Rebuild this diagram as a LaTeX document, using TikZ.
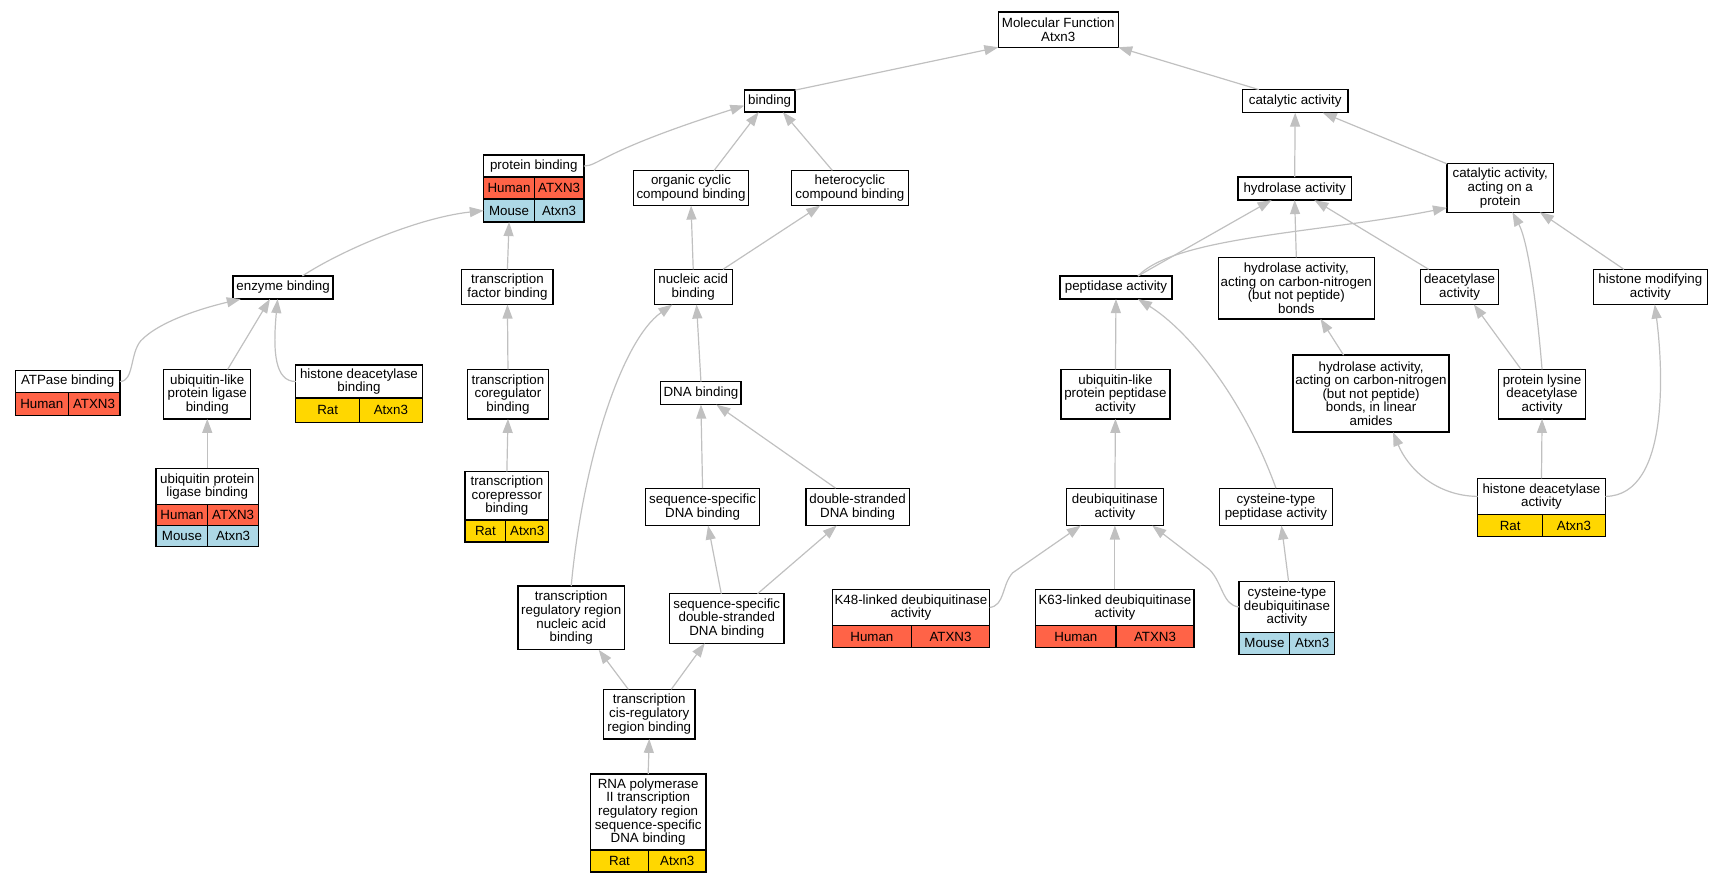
\documentclass[tikz,border=0pt]{standalone}
\usepackage{fontspec}
\setmainfont{Liberation Sans}
\usetikzlibrary{calc}
\usetikzlibrary{arrows.meta}

\definecolor{human}{HTML}{FF6347}
\definecolor{mouse}{HTML}{ADD8E6}
\definecolor{rat}{HTML}{FFD700}
\definecolor{edgegray}{HTML}{C0C0C0}

\begin{document}
\begin{tikzpicture}[x=0.8246pt,y=-0.8246pt,font=\fontsize{10}{10.2}\selectfont]
\tikzset{>={Triangle[length=10.5pt,width=7.5pt]}}
\tikzset{term/.style 2 args={draw,fill=white,line width=1pt,align=center,inner sep=0pt,outer sep=0pt,
    minimum width=#1*0.8246pt,minimum height=#2*0.8246pt}}
\tikzset{cell/.style 2 args={draw,line width=1pt,inner sep=0pt,outer sep=0pt,anchor=north west,
    minimum width=#1*0.8246pt,minimum height=#2*0.8246pt}}
\tikzset{isa/.style={draw=edgegray,line width=0.9pt,->}}

\useasboundingbox (0,0) rectangle (1568,803);

% top levels
\node[term={109}{32}] (mf) at (962.5,27) {Molecular Function\\Atxn3};
\node[term={46}{20}] (bind) at (700,92) {binding};
\node[term={96}{21}] (cat) at (1178,92) {catalytic activity};

\node[term={91}{20},anchor=north west] (pb) at (440,141) {protein binding};
\node[cell={46}{20},fill=human] (pbh) at (pb.south west) {Human};
\node[cell={45}{20},fill=human] at (pbh.north east) {ATXN3};
\node[cell={46}{21},fill=mouse] (pbm) at (pbh.south west) {Mouse};
\node[cell={45}{21},fill=mouse] at (pbm.north east) {Atxn3};

\node[term={105}{32}] (org) at (628.5,171) {organic cyclic\\compound binding};
\node[term={106}{32}] (het) at (773,171) {heterocyclic\\compound binding};
\node[term={103}{21}] (hyd) at (1177.5,171.5) {hydrolase activity};
\node[term={97}{44}] (catp) at (1364.5,171) {catalytic activity,\\acting on a\\protein};

\node[term={91}{21}] (enz) at (257.5,261.5) {enzyme binding};
\node[term={83}{32}] (tfb) at (461.5,261) {transcription\\factor binding};
\node[term={71}{32}] (nab) at (630.5,261) {nucleic acid\\binding};
\node[term={102}{21}] (pep) at (1015,261.5) {peptidase activity};
\node[term={142}{56}] (hcn) at (1179,262) {hydrolase activity,\\acting on carbon-nitrogen\\(but not peptide)\\bonds};
\node[term={71}{32}] (deac) at (1327.5,261) {deacetylase\\activity};
\node[term={104}{32}] (hmod) at (1501,261) {histone modifying\\activity};

\node[term={95}{20},anchor=north west] (atp) at (14,337) {ATPase binding};
\node[cell={48}{21},fill=human] (atph) at (atp.south west) {Human};
\node[cell={47}{21},fill=human] at (atph.north east) {ATXN3};

\node[term={79}{45}] (ulplb) at (188.5,358.5) {ubiquitin-like\\protein ligase\\binding};

\node[term={115}{30},anchor=north west] (hdb) at (269,332) {histone deacetylase\\binding};
\node[cell={58}{22},fill=rat] (hdbr) at (hdb.south west) {Rat};
\node[cell={57}{22},fill=rat] at (hdbr.north east) {Atxn3};

\node[term={74}{45}] (tcrb) at (462,358.5) {transcription\\coregulator\\binding};
\node[term={73}{21}] (dna) at (637.5,357.5) {DNA binding};
\node[term={99}{45}] (ulpp) at (1014.5,358.5) {ubiquitin-like\\protein peptidase\\activity};
\node[term={142}{70}] (hcnl) at (1247,358) {hydrolase activity,\\acting on carbon-nitrogen\\(but not peptide)\\bonds, in linear\\amides};
\node[term={79}{45}] (plda) at (1402.5,358.5) {protein lysine\\deacetylase\\activity};

\node[term={93}{33},anchor=north west] (uplb) at (142,426) {ubiquitin protein\\ligase binding};
\node[cell={47}{19},fill=human] (uplbh) at (uplb.south west) {Human};
\node[cell={46}{19},fill=human] at (uplbh.north east) {ATXN3};
\node[cell={47}{19},fill=mouse] (uplbm) at (uplbh.south west) {Mouse};
\node[cell={46}{19},fill=mouse] at (uplbm.north east) {Atxn3};

\node[term={76}{44},anchor=north west] (tcpb) at (423,429) {transcription\\corepressor\\binding};
\node[cell={37}{20},fill=rat] (tcpbr) at (tcpb.south west) {Rat};
\node[cell={39}{20},fill=rat] at (tcpbr.north east) {Atxn3};

\node[term={104}{34}] (ssdna) at (639,461) {sequence-specific\\DNA binding};
\node[term={94}{34}] (dsdna) at (780,461) {double-stranded\\DNA binding};
\node[term={88}{34}] (deub) at (1014,461) {deubiquitinase\\activity};
\node[term={103}{34}] (ctp) at (1160.5,461) {cysteine-type\\peptidase activity};

\node[term={116}{33},anchor=north west] (hda) at (1344,435) {histone deacetylase\\activity};
\node[cell={59}{20},fill=rat] (hdar) at (hda.south west) {Rat};
\node[cell={57}{20},fill=rat] at (hdar.north east) {Atxn3};

\node[term={97}{58}] (trrn) at (519.5,562) {transcription\\regulatory region\\nucleic acid\\binding};
\node[term={104}{45}] (ssds) at (661,562.5) {sequence-specific\\double-stranded\\DNA binding};

\node[term={143}{33},anchor=north west] (k48) at (757,536) {K48-linked deubiquitinase\\activity};
\node[cell={72}{20},fill=human] (k48h) at (k48.south west) {Human};
\node[cell={71}{20},fill=human] at (k48h.north east) {ATXN3};

\node[term={144}{33},anchor=north west] (k63) at (942,536) {K63-linked deubiquitinase\\activity};
\node[cell={73}{20},fill=human] (k63h) at (k63.south west) {Human};
\node[cell={71}{20},fill=human] at (k63h.north east) {ATXN3};

\node[term={87}{46},anchor=north west] (ctd) at (1127,529) {cysteine-type\\deubiquitinase\\activity};
\node[cell={46}{20},fill=mouse] (ctdm) at (ctd.south west) {Mouse};
\node[cell={41}{20},fill=mouse] at (ctdm.north east) {Atxn3};

\node[term={83}{45}] (tcis) at (590.5,649.5) {transcription\\cis-regulatory\\region binding};

\node[term={105}{69},anchor=north west] (rna) at (537,704) {RNA polymerase\\II transcription\\regulatory region\\sequence-specific\\DNA binding};
\node[cell={53}{20},fill=rat] (rnar) at (rna.south west) {Rat};
\node[cell={52}{20},fill=rat] at (rnar.north east) {Atxn3};

% is_a edges, child to parent
\draw[isa] (bind.north east) -- (mf.south west);
\draw[isa] ($(cat.north west)+(15,0)$) -- (mf.south east);
\draw[isa] (pb.east) .. controls (545,151) and (545,138) .. ($(bind.west)+(0,4)$);
\draw[isa] ($(org.north)+(21,0)$) -- ($(bind.south)+(-10,0)$);
\draw[isa] ($(het.north)+(-16,0)$) -- ($(bind.south)+(12,0)$);
\draw[isa] (hyd.north) -- (cat.south);
\draw[isa] (catp.north west) -- ($(cat.south)+(25,0)$);

\draw[isa] ($(enz.north)+(17.5,0)$) .. controls (310,228) and (380,198) .. (pbm.west);
\draw[isa] (tfb.north) -- (pbm.south);
\draw[isa] (nab.north) -- (org.south);
\draw[isa] ($(nab.north)+(27,0)$) -- ($(het.south)+(-27,0)$);
\draw[isa] ($(pep.north)+(20,0)$) -- ($(hyd.south)+(-21,0)$);
\draw[isa] ($(pep.north)+(20,0)$) .. controls (1070,215) and (1200,212) .. ($(catp.south west)+(0,-4)$);
\draw[isa] (hcn.north) -- (hyd.south);
\draw[isa] ($(deac.north)+(-28,0)$) -- ($(hyd.south)+(18,0)$);
\draw[isa] ($(hmod.north)+(-24,0)$) -- ($(catp.south)+(36,0)$);

\draw[isa] (atp.east) .. controls (122,347) and (118,322) .. (128,310) .. controls (145,292) and (185,280) .. ($(enz.south west)+(7,0)$);
\draw[isa] ($(ulplb.north)+(18.5,0)$) -- ($(enz.south)+(-12,0)$);
\draw[isa] (hdb.west) .. controls (250,347) and (248,320) .. ($(enz.south)+(-5,0)$);
\draw[isa] (tcrb.north) -- (tfb.south);
\draw[isa] (dna.north) -- ($(nab.south)+(3,0)$);
\draw[isa] (trrn.north) .. controls (530,420) and (565,310) .. ($(nab.south)+(-19,0)$);
\draw[isa] (ulpp.north) -- (pep.south);
\draw[isa] (ctp.north) .. controls (1130,360) and (1080,300) .. ($(pep.south)+(20,0)$);
\draw[isa] ($(hcnl.north)+(-25,0)$) -- ($(hcn.south)+(22,0)$);
\draw[isa] ($(plda.north)+(-19,0)$) -- ($(deac.south)+(13,0)$);
\draw[isa] (plda.north) .. controls (1398,280) and (1390,220) .. ($(catp.south)+(11,0)$);

\draw[isa] (uplb.north) -- (ulplb.south);
\draw[isa] (tcpb.north) -- (tcrb.south);
\draw[isa] (ssdna.north) -- (dna.south);
\draw[isa] ($(dsdna.north)+(-20,0)$) -- ($(dna.south)+(14,0)$);
\draw[isa] (deub.north) -- (ulpp.south);
\draw[isa] (hda.north) -- (plda.south);
\draw[isa] (hda.west) .. controls (1305,451) and (1280,425) .. ($(hcnl.south)+(20,0)$);
\draw[isa] (hda.east) .. controls (1520,451) and (1512,330) .. ($(hmod.south)+(4,0)$);

\draw[isa] ($(ssds.north)+(-5,0)$) -- ($(ssdna.south)+(5,0)$);
\draw[isa] ($(ssds.north)+(28,0)$) -- ($(dsdna.south)+(-19,0)$);
\draw[isa] (k48.east) .. controls (914,551) and (911,532) .. (921,521) -- ($(deub.south west)+(13,0)$);
\draw[isa] (k63.north) -- (deub.south);
\draw[isa] (ctd.west) .. controls (1112,551) and (1112,530) .. (1100,518) -- ($(deub.south east)+(-10,0)$);
\draw[isa] ($(ctd.north)+(1.5,0)$) -- ($(ctp.south)+(5,0)$);

\draw[isa] ($(tcis.north)+(-19,0)$) -- ($(trrn.south)+(25,0)$);
\draw[isa] ($(tcis.north)+(20,0)$) -- ($(ssds.south)+(-20,0)$);
\draw[isa] (rna.north) -- (tcis.south);

\end{tikzpicture}
\end{document}
